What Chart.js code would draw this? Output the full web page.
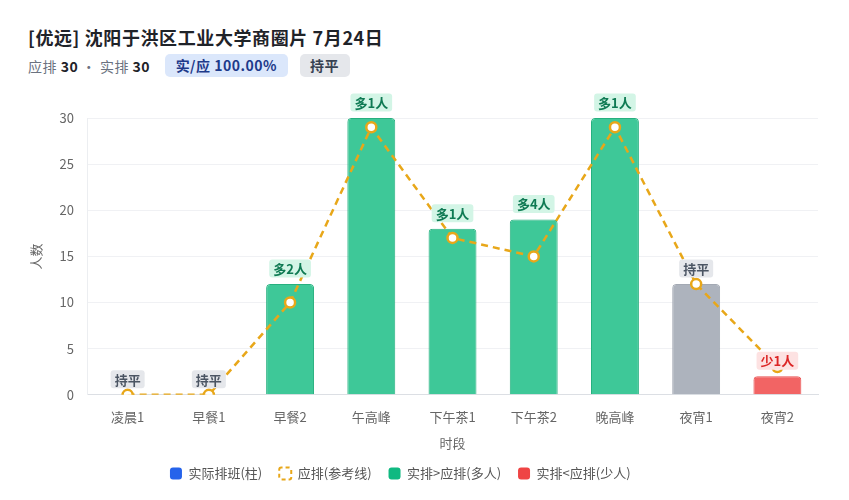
<!DOCTYPE html>
<html>
<head>
<meta charset="utf-8">
<script src="https://cdn.jsdelivr.net/npm/chart.js@4.4.1/dist/chart.umd.min.js"></script>
<style>
  html,body{margin:0;padding:0;background:#fff;width:849px;height:500px;overflow:hidden;font-family:"Noto Sans CJK SC","Noto Sans",sans-serif;}
  #title{position:absolute;left:28px;top:24px;font-size:18px;letter-spacing:0.6px;font-weight:700;color:#1f2329;white-space:nowrap;line-height:26px;}
  #sub{position:absolute;left:28px;top:54px;height:23px;display:flex;align-items:center;font-size:14px;letter-spacing:0.5px;color:#6b7280;white-space:pre;}
  #sub b{color:#1f2329;font-weight:700;}
  .badge{display:inline-block;height:23px;line-height:23px;padding:0 10.5px;border-radius:5px;font-weight:700;font-size:14px;}
  .b1{background:#dbe7fb;color:#1e3a8a;margin-left:15px;}
  .b2{background:#e5e7eb;color:#374151;margin-left:12px;}
  #wrap{position:absolute;left:0;top:88px;width:849px;height:412px;}
</style>
</head>
<body>
<div id="title">[优远] 沈阳于洪区工业大学商圈片 7月24日</div>
<div id="sub">应排 <b>30</b> · 实排 <b>30</b><span class="badge b1">实/应 100.00%</span><span class="badge b2">持平</span></div>
<div id="wrap"><canvas id="c" width="849" height="412"></canvas></div>
<script>
const categories = ["凌晨1","早餐1","早餐2","午高峰","下午茶1","下午茶2","晚高峰","夜宵1","夜宵2"];
const actual = [0,0,12,30,18,19,30,12,2];
const planned = [0,0,10,29,17,15,29,12,3];
const diffLabels = ["持平","持平","多2人","多1人","多1人","多4人","多1人","持平","少1人"];
const yTicks = [0,5,10,15,20,25,30];

const GREEN = '#3ec898', GREEN_B = '#27b07f';
const GRAY = '#adb3bd', GRAY_B = '#a3a9b3';
const RED = '#f26464', RED_B = '#e85252';
const ORANGE = '#e8a719';
const FONT = '"Noto Sans CJK SC", sans-serif';

const barFill = actual.map((a,i)=> a>planned[i]?GREEN:(a<planned[i]?RED:GRAY));
const barBorder = actual.map((a,i)=> a>planned[i]?GREEN_B:(a<planned[i]?RED_B:GRAY_B));

const badgePlugin = {
  id:'badges',
  afterLayout(chart){
    const lg = chart.legend;
    if(lg){ lg.left -= 21; lg.right -= 21; lg.top -= 2; lg.bottom -= 2; }
  },
  afterDatasetsDraw(chart){
    const ctx = chart.ctx;
    const meta = chart.getDatasetMeta(0);
    ctx.save();
    ctx.font = 'bold 13px ' + FONT;
    ctx.textAlign='center'; ctx.textBaseline='middle';
    meta.data.forEach((bar,i)=>{
      const a=actual[i], p=planned[i];
      let bg='#e5e7eb', fg='#4b5563';
      if(a>p){bg='#d3f5e6'; fg='#0f7a53';}
      else if(a<p){bg='#fde2e2'; fg='#dc2626';}
      const txt = diffLabels[i];
      const w = ctx.measureText(txt).width + 8;
      const h = 18;
      const cx = bar.x, cy = bar.y - 15.5;
      ctx.fillStyle = bg;
      ctx.beginPath();
      ctx.roundRect(cx-w/2, cy-h/2, w, h, 3);
      ctx.fill();
      ctx.fillStyle = fg;
      ctx.fillText(txt, cx, cy+0.5);
    });
    ctx.restore();
  }
};

new Chart(document.getElementById('c'), {
  data:{
    labels:categories,
    datasets:[
      {type:'bar', label:'实际排班(柱)', data:actual, backgroundColor:barFill, borderColor:barBorder,
       borderWidth:1, borderRadius:{topLeft:4,topRight:4}, borderSkipped:'bottom', barPercentage:0.59, categoryPercentage:1, order:2},
      {type:'line', label:'应排(参考线)', data:planned, borderColor:ORANGE, borderWidth:2.5, borderDash:[7,5],
       pointRadius:5, pointBackgroundColor:'#ffffff', pointBorderColor:ORANGE, pointBorderWidth:2.5, tension:0, fill:false, order:1}
    ]
  },
  options:{
    responsive:false, animation:false, devicePixelRatio:1,
    layout:{padding:{left:24.5,right:31,top:30,bottom:8}},
    plugins:{
      tooltip:{enabled:false},
      legend:{
        position:'bottom',
        labels:{
          font:{size:13,family:FONT}, color:'#555',
          boxWidth:12, boxHeight:12, padding:17,
          generateLabels(){
            return [
              {text:'实际排班(柱)', fillStyle:'#2563eb', strokeStyle:'#2563eb', lineWidth:0, borderRadius:3, fontColor:'#555'},
              {text:'应排(参考线)', fillStyle:'rgba(0,0,0,0)', strokeStyle:ORANGE, lineWidth:2, lineDash:[4,3], borderRadius:2, fontColor:'#555'},
              {text:'实排>应排(多人)', fillStyle:'#10b981', strokeStyle:'#10b981', lineWidth:0, borderRadius:3, fontColor:'#555'},
              {text:'实排<应排(少人)', fillStyle:'#ef4444', strokeStyle:'#ef4444', lineWidth:0, borderRadius:3, fontColor:'#555'}
            ];
          }
        },
        onClick:null
      }
    },
    scales:{
      x:{
        grid:{display:false, drawTicks:false},
        border:{color:'#dcdfe4', width:1},
        ticks:{color:'#666', font:{size:13,family:FONT}, padding:14},
        title:{display:true, text:'时段', color:'#666', font:{size:13,family:FONT}, padding:{top:-3,bottom:1}}
      },
      y:{
        min:0, max:30,
        afterBuildTicks(axis){ axis.ticks = yTicks.map(v=>({value:v})); },
        grid:{color:'#f0f1f4', drawTicks:false},
        border:{color:'#eceef1', width:1},
        ticks:{color:'#666', font:{size:13,family:FONT}, padding:13},
        title:{display:true, text:'人数', color:'#666', font:{size:13,family:FONT}, padding:{top:4,bottom:2.5}}
      }
    }
  },
  plugins:[badgePlugin]
});
</script>
</body>
</html>
